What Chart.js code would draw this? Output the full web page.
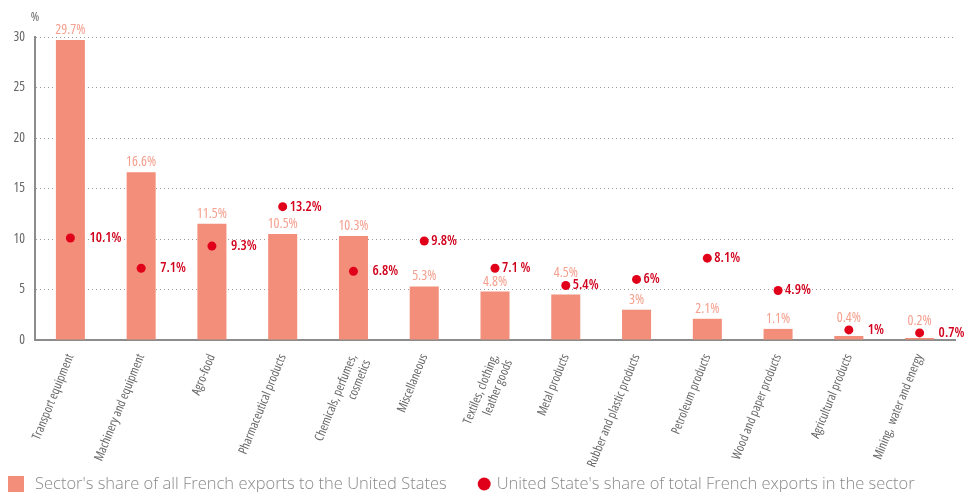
<!DOCTYPE html>
<html>
<head>
<meta charset="utf-8">
<script src="https://cdn.jsdelivr.net/npm/chart.js@4"></script>
<style>
html, body { margin: 0; padding: 0; background: #fff; }
#wrap { width: 974px; height: 492px; }
</style>
</head>
<body>
<div id="wrap"><canvas id="myChart"></canvas></div>
<script>
const ctx = document.querySelector('#myChart').getContext('2d');

const categories = [
    'Transport equipment',
    'Machinery and equipment',
    'Agro-food',
    'Pharmaceutical products',
    ['Chemicals, perfumes,', 'cosmetics'],
    'Miscellaneous',
    ['Textiles, clothing,', 'leather goods'],
    'Metal products',
    'Rubber and plastic products',
    'Petroleum products',
    'Wood and paper products',
    'Agricultural products',
    'Mining,  water and energy',
];

// sector's share of all French exports to the US
const sectorShare = [29.7, 16.6, 11.5, 10.5, 10.3, 5.3, 4.8, 4.5, 3, 2.1, 1.1, 0.4, 0.2];
const sectorText = ['29.7%', '16.6%', '11.5%', '10.5%', '10.3%', '5.3%', '4.8%', '4.5%', '3%', '2.1%', '1.1%', '0.4%', '0.2%'];

// US share of total French exports in the sector
const usShare = [10.1, 7.1, 9.3, 13.2, 6.8, 9.8, 7.1, 5.4, 6, 8.1, 4.9, 1, 0.7];
const usText = ['10.1%', '7.1%', '9.3%', '13.2%', '6.8%', '9.8%', '7.1 %', '5.4%', '6%', '8.1%', '4.9%', '1%', '0.7%'];

const yMin = 0;
const yMax = 30;
const yStep = 5;

// Open Sans is a variable font here, "condensed" narrows it
const narrow = "'Open Sans', sans-serif";
const barColor = '#F28E79';
const dotColor = '#E1001A';
const greyText = '#666666';

const valueLabels = {
    id: 'valueLabels',
    afterDatasetsDraw(chart) {
        const c = chart.ctx;
        const bars = chart.getDatasetMeta(0).data;
        const dots = chart.getDatasetMeta(1).data;
        c.save();
        c.textBaseline = 'middle';
        bars.forEach((bar, i) => {
            const dot = dots[i];
            let ly = bar.y - 10;
            if (Math.abs(dot.y - ly) < 12) ly = dot.y - 12;
            c.font = 'condensed 14px ' + narrow;
            c.fillStyle = '#F5A08F';
            c.textAlign = 'center';
            c.fillText(sectorText[i], bar.x, ly);

            const near = usShare[i] - sectorShare[i] < 0.8;
            c.font = 'condensed 600 14px ' + narrow;
            c.fillStyle = '#D2001C';
            c.textAlign = 'left';
            c.fillText(usText[i], dot.x + (near ? 19 : 7), dot.y);
        });
        c.font = 'condensed 13px ' + narrow;
        c.fillStyle = greyText;
        c.textAlign = 'center';
        c.fillText('%', chart.chartArea.left, chart.chartArea.top - 20);
        c.restore();
    }
};

// legend: square for the bars, round dot for the points
const bottomLegend = {
    id: 'bottomLegend',
    afterDraw(chart) {
        const c = chart.ctx;
        const ds = chart.data.datasets;
        const y = chart.height - 8;
        c.save();
        c.font = '300 16.5px ' + narrow;
        c.textBaseline = 'middle';
        c.textAlign = 'left';
        let x = 8;
        c.fillStyle = ds[0].backgroundColor;
        c.fillRect(x, y - 8, 16, 16);
        c.fillStyle = '#8a8a8a';
        c.fillText(ds[0].label, x + 27, y);
        x += 27 + c.measureText(ds[0].label).width + 31;
        c.fillStyle = ds[1].backgroundColor;
        c.beginPath();
        c.arc(x + 6.5, y, 6.5, 0, Math.PI * 2);
        c.fill();
        c.fillStyle = '#8a8a8a';
        c.fillText(ds[1].label, x + 19, y);
        c.restore();
    }
};

const data = {
    labels: categories,
    datasets: [
        {
            type: 'bar',
            label: "Sector's share of all French exports to the United States",
            data: sectorShare,
            backgroundColor: barColor,
            barPercentage: 0.41,
            categoryPercentage: 1,
            order: 1,
        },
        {
            type: 'line',
            label: "United State's share of total French exports in the sector",
            data: usShare,
            showLine: false,
            pointRadius: 4.5,
            pointHoverRadius: 4.5,
            pointBackgroundColor: dotColor,
            pointBorderWidth: 0,
            backgroundColor: dotColor,
            borderColor: dotColor,
            order: 0,
        },
    ],
};

const config = {
    type: 'bar',
    data: data,
    options: {
        responsive: true,
        maintainAspectRatio: false,
        animation: false,
        layout: { padding: { top: 37, left: 0, right: 19, bottom: 20 } },
        plugins: {
            tooltip: { enabled: false },
            legend: { display: false },
        },
        scales: {
            x: {
                grid: { display: false },
                border: { color: '#8c8c8c', width: 2 },
                ticks: {
                    color: greyText,
                    font: { family: narrow, size: 12.5, weight: 'condensed 500' },
                    minRotation: 68,
                    maxRotation: 68,
                    autoSkip: false,
                    padding: 4,
                },
                afterFit(s) { s.height = 132; },
            },
            y: {
                min: yMin,
                max: yMax,
                ticks: {
                    stepSize: yStep,
                    color: greyText,
                    font: { family: narrow, size: 13.5, weight: 'condensed 500' },
                    padding: 10,
                },
                grid: { color: '#9a9a9a', drawTicks: false },
                border: { color: '#8c8c8c', width: 2, dash: [1, 3] },
                afterFit(s) { s.width = 35; },
            },
        },
    },
    plugins: [valueLabels, bottomLegend],
};

const myChart = new Chart(ctx, config);
</script>
</body>
</html>
